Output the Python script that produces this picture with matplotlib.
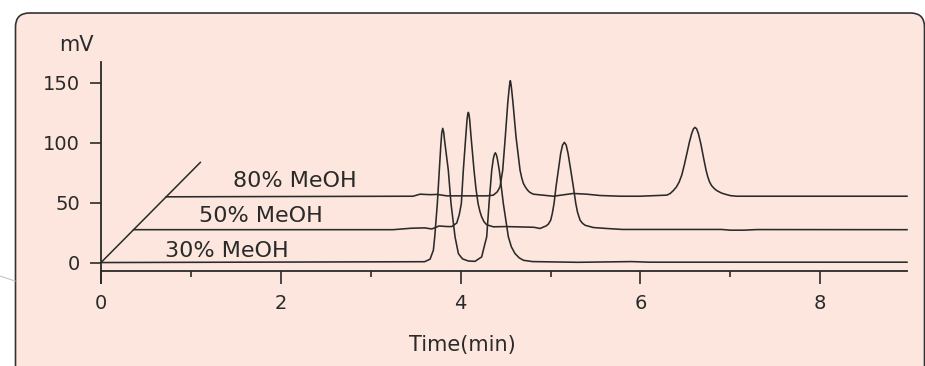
import matplotlib
matplotlib.use("Agg")
from matplotlib import pyplot as plt
from matplotlib.patches import FancyBboxPatch
from matplotlib.lines import Line2D
from matplotlib.transforms import IdentityTransform

plt.rcParams['font.family'] = ['DejaVu Sans']

# 30% MeOH trace (time in min, signal in mV as drawn)
t30 = [0, 3.60, 3.66, 3.697, 3.712, 3.741, 3.763, 3.78, 3.79, 3.801, 3.812, 3.821,
       3.863, 3.893, 3.938, 3.975, 4.0, 4.023, 4.086, 4.16, 4.234, 4.271, 4.29, 4.316,
       4.346, 4.364, 4.375, 4.386, 4.397, 4.408, 4.43, 4.475, 4.531, 4.565, 4.605,
       4.65, 4.698, 4.80, 5.3, 5.9, 6.1, 8.965]
v30 = [0, 0.7, 2.8, 10.3, 21.4, 49.2, 77.0, 97.9, 108.0, 111.9, 108.5, 102.1,
       77.0, 49.2, 21.4, 7.5, 5.0, 3.0, 1.3, 1.0, 4.7, 15.9, 21.4, 49.2,
       77.0, 86.7, 90.0, 91.5, 90.0, 86.7, 77.0, 49.2, 21.4, 13.0, 7.5,
       4.0, 1.9, 0.8, 0.2, 0.8, 0.3, 0.3]

# 50% MeOH trace
t50 = [0.363, 3.248, 3.45, 3.60, 3.68, 3.76, 3.85, 3.901, 3.957, 3.985, 4.008,
       4.030, 4.057, 4.071, 4.079, 4.086, 4.093, 4.101, 4.116, 4.149, 4.17, 4.194,
       4.215, 4.234, 4.26, 4.290, 4.364, 4.5, 4.661, 4.816, 4.883, 4.95, 4.975, 5.002,
       5.02, 5.039, 5.061, 5.087, 5.113, 5.134, 5.154, 5.174, 5.195, 5.225, 5.254,
       5.281, 5.30, 5.329, 5.355, 5.384, 5.476, 5.625, 5.8, 6.9, 7.0, 7.15, 7.3, 8.965]
v50 = [27.4, 27.4, 28.6, 28.9, 28.0, 30.5, 30.0, 30.0, 33.0, 40.0, 49.2,
       77.0, 104.9, 118.8, 123.5, 125.2, 123.5, 118.8, 104.9, 77.0, 62.0, 49.2,
       42.5, 38.1, 34.0, 31.5, 29.8, 30.0, 29.7, 29.4, 28.4, 30.5, 32.0, 35.3,
       41.0, 49.2, 63.1, 77.0, 91.0, 98.0, 100.2, 98.0, 91.0, 77.0, 63.1,
       49.2, 42.0, 35.3, 32.8, 31.1, 29.2, 28.4, 27.6, 27.6, 27.0, 27.0, 27.5, 27.4]

# 80% MeOH trace
t80 = [0.725, 3.471, 3.548, 3.66, 3.74, 3.845, 4.290, 4.364, 4.408, 4.438, 4.468,
       4.497, 4.524, 4.538, 4.546, 4.553, 4.560, 4.568, 4.583, 4.616, 4.661, 4.68,
       4.698, 4.72, 4.743, 4.77, 4.809, 5.031, 5.254, 5.402, 5.551, 5.773, 5.996,
       6.293, 6.33, 6.366, 6.40, 6.43, 6.46, 6.49, 6.52, 6.545, 6.57, 6.59, 6.607,
       6.625, 6.644, 6.671, 6.69, 6.707, 6.73, 6.749, 6.77, 6.793, 6.82, 6.849, 6.9,
       6.941, 7.0, 7.071, 8.965]
v80 = [54.8, 55.3, 57.0, 56.6, 56.8, 55.6, 55.6, 56.2, 59.0, 63.1, 77.0,
       104.9, 132.7, 143.8, 149.0, 151.6, 149.0, 143.8, 132.7, 104.9, 77.0, 70.5,
       66.0, 63.0, 60.5, 58.5, 57.0, 55.3, 57.6, 57.0, 55.9, 55.3, 55.3,
       56.2, 57.5, 60.0, 63.0, 67.0, 73.0, 82.0, 92.0, 100.5, 107.5, 111.5, 112.7,
       111.5, 107.7, 99.3, 92.0, 85.4, 77.0, 71.5, 67.0, 64.0, 61.8, 60.0, 58.0,
       57.0, 55.8, 55.3, 55.3]

labels = ["30% MeOH", "50% MeOH", "80% MeOH"]
label_t = [0.712, 1.094, 1.468]
label_mv = [4.7, 33.4, 62.6]

# depth axis of the stacked plot
depth_t = [0, 1.105]
depth_mv = [0, 83.5]

xticks = [0, 2, 4, 6, 8]
xminor = [1, 3, 5, 7]
yticks = [0, 50, 100, 150]

ink = '#2a2a2a'
fig = plt.figure(figsize=(9.25, 3.66), dpi=100)
fig.patch.set_facecolor('white')

# rounded peach panel behind everything
box = FancyBboxPatch((15.5 + 14, -20 + 14), 909 - 28, 373 - 28,
                     boxstyle="round,pad=14", transform=IdentityTransform(),
                     facecolor='#fde6dd', edgecolor='#333333', linewidth=1.2, zorder=-2)
fig.add_artist(box)
fig.add_artist(Line2D([0, 15], [90, 85], transform=IdentityTransform(),
                      color='#c4c4c4', linewidth=0.8, zorder=-1))

ax = fig.add_axes([101 / 925, 1 - 283.3 / 366, 806 / 925, (283.3 - 62) / 366])
ax.patch.set_alpha(0)
ax.set_xlim(0, 8.965)
ax.set_ylim(-17.3, 167.2)

for t, v in [(t30, v30), (t50, v50), (t80, v80)]:
    ax.plot(t, v, color=ink, linewidth=1.15, clip_on=False, solid_joinstyle='round')
ax.plot(depth_t, depth_mv, color=ink, linewidth=1.1, clip_on=False)

for lab, lt, lv in zip(labels, label_t, label_mv):
    ax.text(lt, lv, lab, fontsize=16, color=ink, va='baseline', ha='left')

for s in ['top', 'right']:
    ax.spines[s].set_visible(False)
ax.spines['bottom'].set_position(('data', -7.0))
ax.spines['left'].set_linewidth(1.3)
ax.spines['bottom'].set_linewidth(1.3)
ax.spines['left'].set_color(ink)
ax.spines['bottom'].set_color(ink)

ax.set_xticks(xticks)
ax.set_xticks(xminor, minor=True)
ax.set_yticks(yticks)
ax.tick_params(axis='x', which='major', length=9.5, width=1.2, pad=7,
               labelsize=14, colors=ink)
ax.tick_params(axis='x', which='minor', length=4.5, width=1.2, colors=ink)
ax.tick_params(axis='y', which='major', length=8, width=1.2, pad=7,
               labelsize=14, colors=ink)

fig.text(462 / 925, 1 - 345 / 366, "Time(min)", fontsize=15, color=ink,
         ha='center', va='center')
fig.text(76 / 925, 1 - 45 / 366, "mV", fontsize=15, color=ink,
         ha='center', va='center')

fig.savefig("out.png", dpi=100)
